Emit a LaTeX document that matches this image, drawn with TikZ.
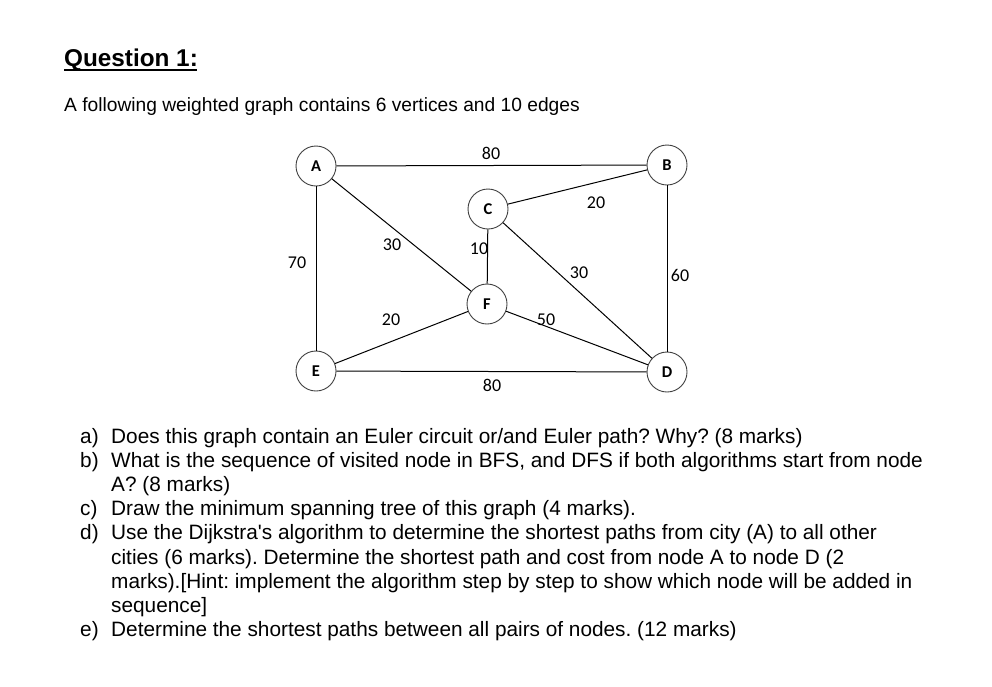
\documentclass[tikz,border=0pt]{standalone}
\usepackage{fontspec}
\setmainfont{Liberation Sans}
\newfontfamily\calib{Carlito}
\begin{document}
\frenchspacing
\begin{tikzpicture}[x=1pt,y=-1pt,
  vtx/.style={circle,draw=black!75,line width=0.9pt,minimum size=40pt,inner sep=0pt,font=\calib\bfseries\fontsize{16.5}{18}\selectfont},
  edge/.style={draw=black,line width=1pt},
  wlab/.style={font=\calib\fontsize{18}{20}\selectfont,inner sep=0pt},
  itm/.style={anchor=base west,inner sep=0pt,font=\fontsize{20.8}{23}\selectfont}]
\useasboundingbox[fill=white] (0,0) rectangle (992,686);
% title
\node[anchor=base west,inner sep=0pt,font=\bfseries\fontsize{24.3}{28}\selectfont] (title) at (64,66) {Question 1:};
\draw[line width=1.6pt] (title.base west) ++(0,4) -- ++(133,0);
\node[anchor=base west,inner sep=0pt,font=\fontsize{19.2}{22}\selectfont] (intro) at (64,111) {A following weighted graph contains 6 vertices and 10 edges};
% graph
\node[vtx] (A) at (316,166) {A};
\node[vtx] (B) at (667,165) {B};
\node[vtx] (C) at (488,209) {C};
\node[vtx] (F) at (487,304) {F};
\node[vtx] (E) at (316,371) {E};
\node[vtx] (D) at (667,372) {D};
\draw[edge] (A) -- (B);
\draw[edge] (A) -- (E);
\draw[edge] (A) -- (F);
\draw[edge] (C) -- (B);
\draw[edge] (C) -- (F);
\draw[edge] (C) -- (D);
\draw[edge] (B) -- (D);
\draw[edge] (E) -- (F);
\draw[edge] (F) -- (D);
\draw[edge] (E) -- (D);
\node[wlab] (lAB) at (491,153) {80};
\node[wlab] (lCB) at (596,203) {20};
\node[wlab] (lAF) at (392,245) {30};
\node[wlab] (lCF) at (479,249) {10};
\node[wlab] (lAE) at (297,263) {70};
\node[wlab] (lCD) at (579,273) {30};
\node[wlab] (lBD) at (680,275) {60};
\node[wlab] (lEF) at (391,320) {20};
\node[wlab] (lFD) at (546,320) {50};
\node[wlab] (lED) at (492,385) {80};
% questions
\node[itm] (qa) at (80,443.5) {a)};
\node[itm] (ta) at (111,443.5) {Does this graph contain an Euler circuit or/and Euler path? Why? (8 marks)};
\node[itm] (qb) at (80,467.6) {b)};
\node[itm] (tb) at (111,467.6) {What is the sequence of visited node in BFS, and DFS if both algorithms start from node};
\node[itm] (tb2) at (111,491.7) {A? (8 marks)};
\node[itm] (qc) at (80,515.8) {c)};
\node[itm] (tc) at (111,515.8) {Draw the minimum spanning tree of this graph (4 marks).};
\node[itm] (qd) at (80,539.9) {d)};
\node[itm] (td) at (111,539.9) {Use the Dijkstra\textquotesingle s algorithm to determine the shortest paths from city (A) to all other};
\node[itm] (td2) at (111,564) {cities (6 marks). Determine the shortest path and cost from node A to node D (2};
\node[itm] (td3) at (111,588.1) {marks).[Hint: implement the algorithm step by step to show which node will be added in};
\node[itm] (td4) at (111,612.2) {sequence]};
\node[itm] (qe) at (80,636.3) {e)};
\node[itm] (te) at (111,636.3) {Determine the shortest paths between all pairs of nodes. (12 marks)};
\end{tikzpicture}
\end{document}
